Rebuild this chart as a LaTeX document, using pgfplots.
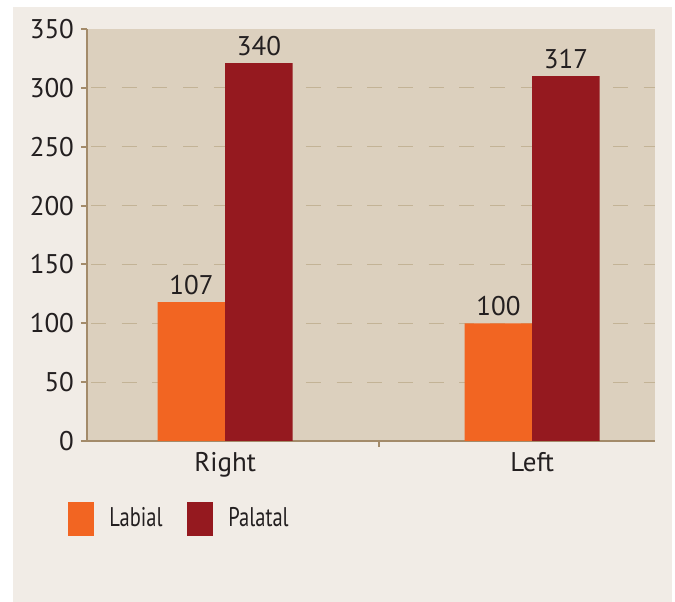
\documentclass[border=0pt]{standalone}
\usepackage{pgfplots}
\pgfplotsset{compat=1.18}
\usepackage{fontspec}
\setmainfont{PT Sans}
\newfontfamily\legfont[FakeStretch=0.76]{PT Sans}
\definecolor{panel}{HTML}{F1ECE6}
\definecolor{plotbg}{HTML}{DCD0BE}
\definecolor{labial}{HTML}{F26522}
\definecolor{palatal}{HTML}{95191F}
\definecolor{axisc}{HTML}{A38B6A}
\definecolor{gridc}{HTML}{C3B396}
\definecolor{txt}{HTML}{231F20}
\begin{document}
\begin{tikzpicture}[font=\fontsize{13.5bp}{16bp}\selectfont]
\fill[white] (0,0) rectangle (337.5bp,301bp);
\fill[panel] (6.5bp,0) rectangle (336bp,297.5bp);
\begin{axis}[
  at={(43.5bp,80.5bp)}, anchor=south west,
  scale only axis, width=284bp, height=206bp,
  ybar=0pt, bar width=33.75bp,
  xmin=-0.45, xmax=1.4, ymin=0, ymax=350,
  axis background/.style={fill=plotbg},
  axis x line*=bottom, axis y line*=left,
  axis line style={draw=axisc, line width=1bp},
  tick align=outside,
  major tick length=3bp,
  tick style={draw=axisc, line width=1bp},
  ytick={0,50,...,350},
  extra y ticks={50,100,...,300},
  extra y tick labels={},
  extra y tick style={ymajorgrids=true, major tick length=0pt},
  major grid style={draw=gridc, line width=0.6bp, dash pattern=on 7.5bp off 7.85bp, dash phase=13.35bp},
  xtick={0.5}, xticklabels={},
  extra x ticks={0,1},
  extra x tick labels={Right,Left},
  extra x tick style={major tick length=0pt, xticklabel style={yshift=-2bp}},
  /pgf/number format/assume math mode=true,
  ticklabel style={text=txt},
  nodes near coords,
  point meta=explicit symbolic,
  nodes near coords style={text=txt, inner sep=3.5bp},
  legend columns=2,
  legend style={at={(-0.0335,-0.189)}, anchor=west, draw=none, fill=none, inner sep=0pt,
    text=txt, font=\fontsize{13.5bp}{16bp}\legfont,
    /tikz/every odd column/.style={column sep=5.5bp},
    /tikz/every even column/.style={column sep=10.5bp}},
]
\addplot[fill=labial, draw=none,
  legend image code/.code={\fill[labial] (0bp,-8.5bp) rectangle (13bp,8.5bp);}]
  coordinates {(0,118) [107] (1,100) [100]};
\addplot[fill=palatal, draw=none,
  legend image code/.code={\fill[palatal] (0bp,-8.5bp) rectangle (13bp,8.5bp);}]
  coordinates {(0,321) [340] (1,310) [317]};
\legend{Labial,Palatal}
\end{axis}
\end{tikzpicture}
\end{document}
